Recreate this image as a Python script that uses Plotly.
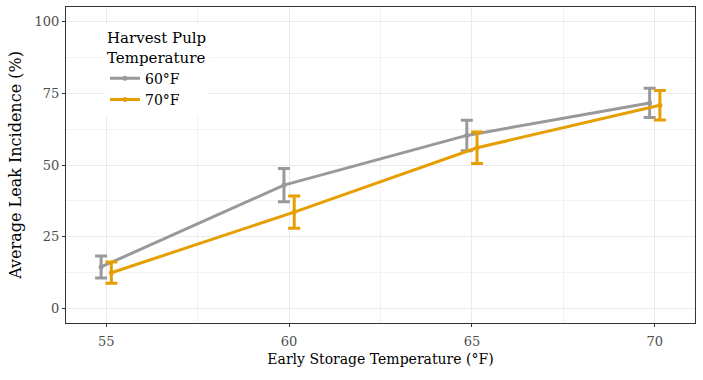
import plotly.graph_objects as go

temps = [55, 60, 65, 70]
series_names = ["60°F", "70°F"]
colors = ["#999999", "#E69F00"]
means_60 = [14.5, 43.0, 60.3, 71.6]
err_60 = [3.8, 5.8, 5.3, 5.1]
means_70 = [12.5, 33.6, 56.0, 70.8]
err_70 = [3.7, 5.6, 5.5, 5.1]
dodge = [-0.14, 0.14]

FONT = "DejaVu Serif"

fig = go.Figure()
for name, col, m, e, d in zip(series_names, colors, [means_60, means_70], [err_60, err_70], dodge):
    fig.add_trace(go.Scatter(
        x=[t + d for t in temps], y=m, name=name, mode="lines+markers",
        line=dict(color=col, width=3),
        marker=dict(color=col, size=5),
        error_y=dict(type="data", array=e, visible=True, color=col, thickness=3, width=6),
    ))

axis_common = dict(
    showline=True, mirror=True, linecolor="#333333", linewidth=1,
    showgrid=True, gridcolor="#EBEBEB", gridwidth=1,
    ticks="outside", ticklen=3, tickcolor="#333333",
    tickfont=dict(family=FONT, size=13, color="#4D4D4D"),
    zeroline=False,
)

fig.update_layout(
    width=703, height=380,
    margin=dict(l=66, r=8, t=7, b=57),
    paper_bgcolor="white", plot_bgcolor="white",
    font=dict(family=FONT, color="black"),
    xaxis=dict(**axis_common, range=[53.9, 71.1], tickvals=temps, ticklabelstandoff=3,
               minor=dict(dtick=2.5, tick0=55, showgrid=True, gridcolor="#F2F2F2", gridwidth=0.6, ticks=""),
               title=dict(text="Early Storage Temperature (°F)", font=dict(family=FONT, size=14, color="black"), standoff=6)),
    yaxis=dict(**axis_common, range=[-5, 105], tickvals=[0, 25, 50, 75, 100],
               minor=dict(dtick=12.5, tick0=0, showgrid=True, gridcolor="#F2F2F2", gridwidth=0.6, ticks=""),
               title=dict(text="Average Leak Incidence (%)", font=dict(family=FONT, size=16, color="black"), standoff=8)),
    legend=dict(
        x=0.062, y=0.947, xanchor="left", yanchor="top",
        bgcolor="white",
        title=dict(text="Harvest Pulp<br>Temperature", font=dict(family=FONT, size=15, color="black")),
        font=dict(family=FONT, size=14, color="black"),
        itemwidth=30,
    ),
)

fig.write_html("out.html", config={"displayModeBar": False},
               post_script="document.body.style.margin='0';")
